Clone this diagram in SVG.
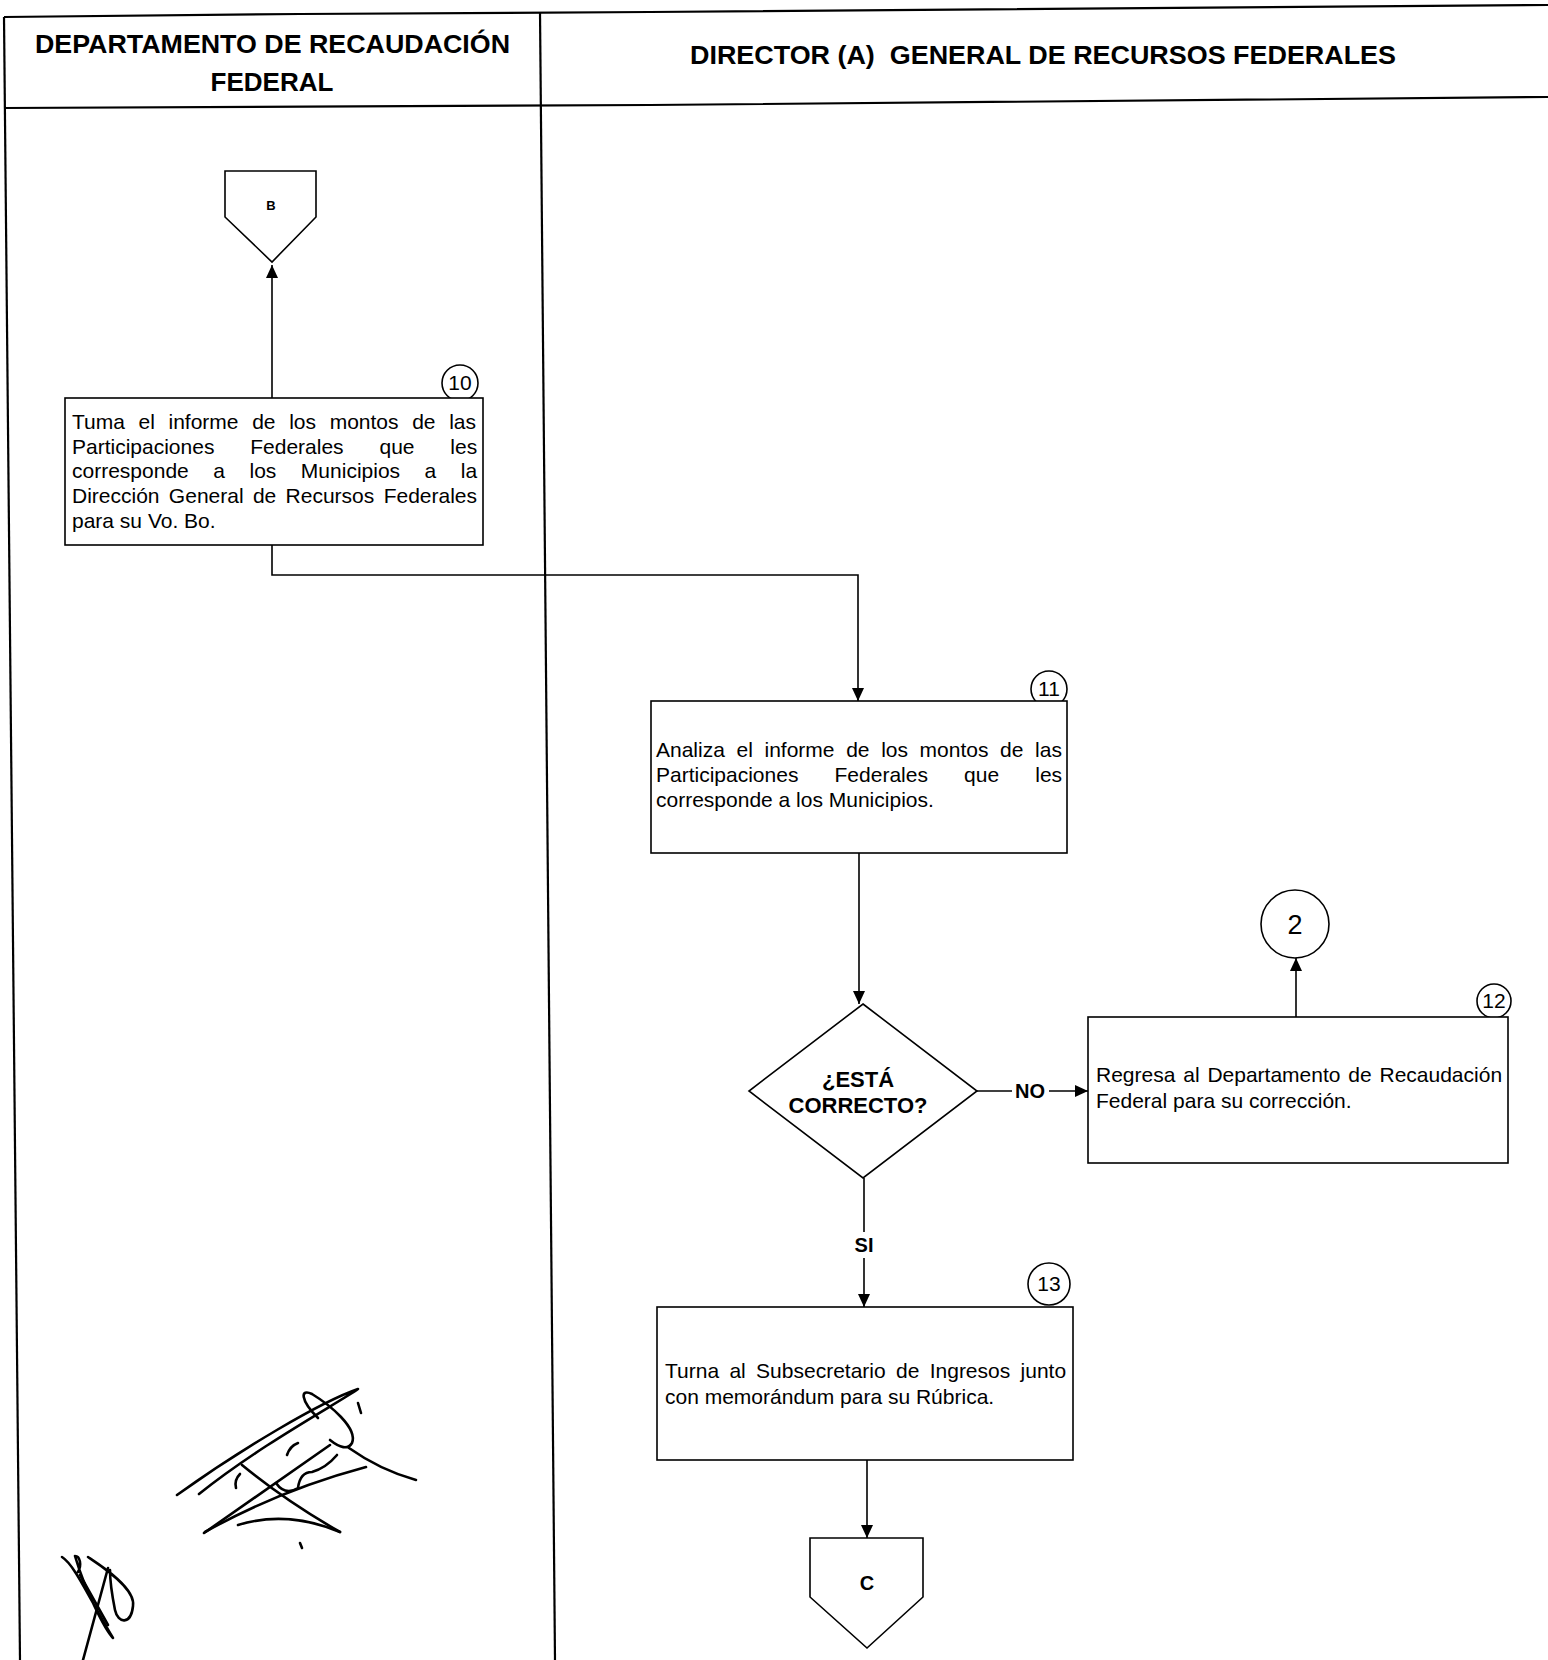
<svg xmlns="http://www.w3.org/2000/svg" width="1548" height="1660" viewBox="0 0 1548 1660">
<style>
  .frame{fill:none;stroke:#000;stroke-width:2.2}
  .box{fill:#fff;stroke:#000;stroke-width:1.6}
  .circ{fill:#fff;stroke:#000;stroke-width:1.6}
  .con{fill:none;stroke:#000;stroke-width:1.6}
  .sig{fill:none;stroke:#000;stroke-width:2.6;stroke-linecap:round;stroke-linejoin:round}
  text{font-family:"Liberation Sans",Arial,sans-serif;fill:#000}
  .h{font-size:26px;font-weight:bold}
  .t{font-size:21px}
  .n{text-anchor:middle}
  .b{font-weight:bold;text-anchor:middle}
</style>
<defs>
  <marker id="arr" markerUnits="userSpaceOnUse" markerWidth="13" markerHeight="12" refX="13" refY="6" orient="auto">
    <path d="M0,0 L13,6 L0,12 z" fill="#000"/>
  </marker>
</defs>
<rect width="1548" height="1660" fill="#fff"/>

<g id="frame">
  <polyline class="frame" points="4,17 300,14 650,12 1548,5"/>
  <polyline class="frame" points="4,108 650,105 1548,97"/>
  <line class="frame" x1="4" y1="17" x2="20" y2="1660"/>
  <line class="frame" x1="540" y1="12" x2="555" y2="1660"/>
  <text class="h" x="35" y="53" textLength="475" lengthAdjust="spacingAndGlyphs">DEPARTAMENTO DE RECAUDACIÓN</text>
  <text class="h" x="272" y="91" text-anchor="middle">FEDERAL</text>
  <text class="h" x="690" y="64" textLength="706" lengthAdjust="spacingAndGlyphs">DIRECTOR (A)&#160; GENERAL DE RECURSOS FEDERALES</text>
</g>

<g id="connectors">
  <line class="con" x1="272" y1="398" x2="272" y2="265" marker-end="url(#arr)"/>
  <path class="con" d="M272,545 V575 H858 V701" marker-end="url(#arr)"/>
  <line class="con" x1="859" y1="853" x2="859" y2="1004" marker-end="url(#arr)"/>
  <line class="con" x1="977" y1="1091" x2="1012" y2="1091"/>
  <line class="con" x1="1049" y1="1091" x2="1088" y2="1091" marker-end="url(#arr)"/>
  <text class="b" x="1030" y="1098" font-size="20">NO</text>
  <line class="con" x1="1296" y1="1017" x2="1296" y2="958" marker-end="url(#arr)"/>
  <line class="con" x1="864" y1="1178" x2="864" y2="1232"/>
  <line class="con" x1="864" y1="1258" x2="864" y2="1307" marker-end="url(#arr)"/>
  <text class="b" x="864" y="1252" font-size="20">SI</text>
  <line class="con" x1="867" y1="1460" x2="867" y2="1538" marker-end="url(#arr)"/>
</g>

<g id="conB">
  <polygon class="box" points="225,171 316,171 316,217 272,262 225,217"/>
  <text class="b" x="271" y="210" font-size="13">B</text>
</g>

<g id="step10">
  <circle class="circ" cx="460" cy="383" r="18"/>
  <text class="n" x="460" y="390" font-size="21">10</text>
  <rect class="box" x="65" y="398" width="418" height="147"/>
  <text class="t" x="72" y="429" word-spacing="7.8">Tuma el informe de los montos de las</text>
  <text class="t" x="72" y="454" word-spacing="30">Participaciones Federales que les</text>
  <text class="t" x="72" y="478" word-spacing="18.7">corresponde a los Municipios a la</text>
  <text class="t" x="72" y="503" word-spacing="3.5">Dirección General de Recursos Federales</text>
  <text class="t" x="72" y="528">para su Vo. Bo.</text>
</g>

<g id="step11">
  <circle class="circ" cx="1049" cy="689" r="18"/>
  <text class="n" x="1049" y="696" font-size="21">11</text>
  <rect class="box" x="651" y="701" width="416" height="152"/>
  <text class="t" x="656" y="757" word-spacing="5.8">Analiza el informe de los montos de las</text>
  <text class="t" x="656" y="782" word-spacing="30.3">Participaciones Federales que les</text>
  <text class="t" x="656" y="807">corresponde a los Municipios.</text>
</g>

<g id="decision">
  <polygon class="box" points="863,1004 977,1091 863,1178 749,1091"/>
  <text class="b" x="858" y="1087" font-size="22">¿ESTÁ</text>
  <text class="b" x="858" y="1113" font-size="22">CORRECTO?</text>
</g>

<g id="conn2">
  <circle class="circ" cx="1295" cy="924" r="34"/>
  <text class="n" x="1295" y="934" font-size="27">2</text>
</g>

<g id="step12">
  <circle class="circ" cx="1494" cy="1001" r="17"/>
  <text class="n" x="1494" y="1008" font-size="21">12</text>
  <rect class="box" x="1088" y="1017" width="420" height="146"/>
  <text class="t" x="1096" y="1082" word-spacing="2">Regresa al Departamento de Recaudación</text>
  <text class="t" x="1096" y="1108">Federal para su corrección.</text>
</g>

<g id="step13">
  <circle class="circ" cx="1049" cy="1284" r="21"/>
  <text class="n" x="1049" y="1291" font-size="21">13</text>
  <rect class="box" x="657" y="1307" width="416" height="153"/>
  <text class="t" x="665" y="1378" word-spacing="4.5">Turna al Subsecretario de Ingresos junto</text>
  <text class="t" x="665" y="1404">con memorándum para su Rúbrica.</text>
</g>

<g id="conC">
  <polygon class="box" points="810,1538 923,1538 923,1597 867,1648 810,1597"/>
  <text class="b" x="867" y="1590" font-size="20">C</text>
</g>

<g id="signatures">
  <path class="sig" d="M177,1495 C240,1450 320,1402 358,1389 C340,1402 260,1445 199,1494"/>
  <path class="sig" d="M204,1533 L330,1445"/>
  <path class="sig" d="M318,1418 C300,1400 300,1388 312,1394 C330,1405 358,1428 352,1443 C348,1450 340,1448 330,1440"/>
  <path class="sig" d="M242,1465 C270,1488 305,1512 340,1532"/>
  <path class="sig" d="M205,1532 Q280,1490 366,1467"/>
  <path class="sig" d="M238,1525 Q287,1510 340,1532"/>
  <path class="sig" d="M349,1448 Q380,1470 416,1480"/>
  <path class="sig" d="M276,1483 Q285,1496 298,1488 Q300,1472 312,1472 Q326,1468 337,1455"/>
  <path class="sig" d="M287,1455 Q290,1446 298,1443"/>
  <path class="sig" d="M240,1474 Q234,1480 236,1488"/>
  <path class="sig" d="M358,1403 L361,1413"/>
  <path class="sig" d="M300,1543 L302,1548"/>
  <path class="sig" d="M62,1557 C75,1565 90,1600 113,1638 C105,1630 85,1590 75,1556 C80,1556 82,1565 78,1572"/>
  <path class="sig" d="M88,1557 C100,1565 136,1588 133,1606 C131,1625 118,1624 115,1610 C112,1595 110,1580 110,1570"/>
  <path class="sig" d="M108,1568 L83,1660"/>
  <path class="sig" d="M80,1575 L108,1625"/>
</g>
</svg>
